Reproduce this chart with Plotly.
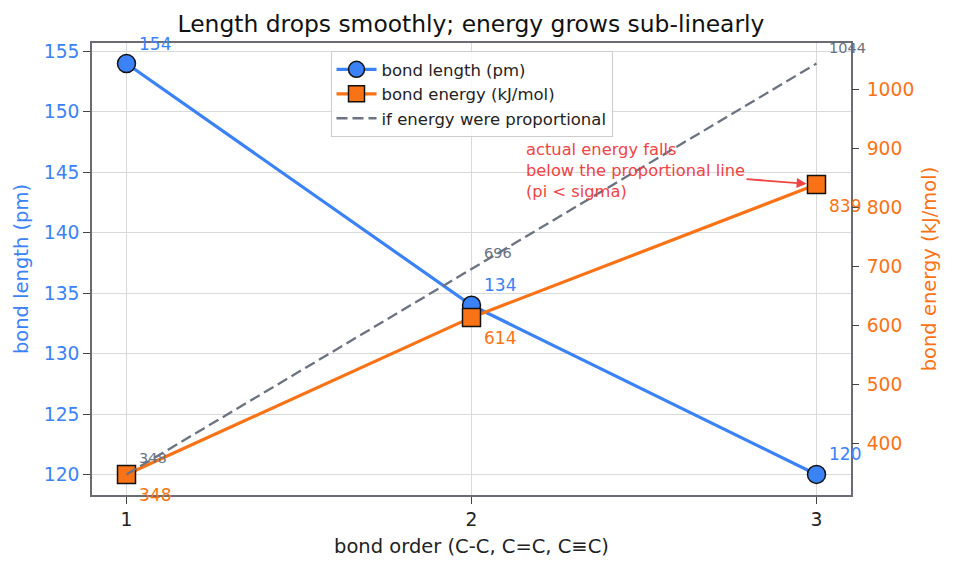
import plotly.graph_objects as go

bond_order = [1, 2, 3]
bond_length = [154, 134, 120]
bond_energy = [348, 614, 839]
proportional = [348, 696, 1044]
x_ticks = [1, 2, 3]
y_ticks = [120, 125, 130, 135, 140, 145, 150, 155]
y2_ticks = [400, 500, 600, 700, 800, 900, 1000]

BLUE = "#3b82f6"
ORANGE = "#f97316"
GRAY = "#6b7280"
RED = "#ef4444"
SPINE = "#6b6b73"
FONT = "DejaVu Sans"

fig = go.Figure()
fig.add_trace(go.Scatter(
    x=bond_order, y=bond_length, name="bond length (pm)", mode="lines+markers",
    line=dict(color=BLUE, width=3.2),
    marker=dict(symbol="circle", size=18, color=BLUE, line=dict(color="#111", width=1.5)),
    yaxis="y"))
fig.add_trace(go.Scatter(
    x=bond_order, y=bond_energy, name="bond energy (kJ/mol)", mode="lines+markers",
    line=dict(color=ORANGE, width=3.2),
    marker=dict(symbol="square", size=18, color=ORANGE, line=dict(color="#111", width=1.5)),
    yaxis="y2"))
fig.add_trace(go.Scatter(
    x=bond_order, y=proportional, name="if energy were proportional", mode="lines",
    line=dict(color=GRAY, width=2.3, dash="11px,5px"),
    yaxis="y2"))

annotations = []
for xv, yv in zip(bond_order, bond_length):
    annotations.append(dict(x=xv, y=yv, xref="x", yref="y", text=str(yv), showarrow=False,
                            xanchor="left", yanchor="middle", xshift=10, yshift=20,
                            font=dict(family=FONT, size=17, color=BLUE)))
for xv, yv in zip(bond_order, bond_energy):
    annotations.append(dict(x=xv, y=yv, xref="x", yref="y2", text=str(yv), showarrow=False,
                            xanchor="left", yanchor="middle", xshift=10, yshift=-21,
                            font=dict(family=FONT, size=17, color=ORANGE)))
for xv, yv in zip(bond_order, proportional):
    annotations.append(dict(x=xv, y=yv, xref="x", yref="y2", text=str(yv), showarrow=False,
                            xanchor="left", yanchor="middle", xshift=10, yshift=16,
                            font=dict(family=FONT, size=14.5, color=GRAY)))
annotations.append(dict(
    x=bond_order[2], y=bond_energy[2], xref="x", yref="y2",
    text="actual energy falls<br>below the proportional line<br>(pi &lt; sigma)",
    align="left", showarrow=True, ax=-181, ay=-14, axref="pixel", ayref="pixel",
    arrowcolor=RED, arrowwidth=1.8, arrowhead=2, arrowsize=1.1, standoff=10,
    font=dict(family=FONT, size=16.3, color=RED)))

fig.update_layout(
    width=954, height=569,
    margin=dict(l=92, r=103, t=43, b=74, autoexpand=False),
    paper_bgcolor="white", plot_bgcolor="white",
    font=dict(family=FONT, color="#222"),
    title=dict(text="Length drops smoothly; energy grows sub-linearly",
               x=0.4937, xanchor="center", y=1 - 24 / 569, yanchor="middle",
               font=dict(family=FONT, size=23.4, color="#111")),
    xaxis=dict(range=[0.9, 3.1], tickvals=x_ticks, ticktext=[str(t) for t in x_ticks],
               showgrid=True, gridcolor="#d9d9d9", gridwidth=1, zeroline=False,
               showline=True, mirror=True, linecolor=SPINE, linewidth=1.6,
               ticks="outside", ticklen=7, tickcolor="#444", tickwidth=1.4,
               tickfont=dict(family=FONT, size=18.7, color="#222"),
               title=dict(text="bond order (C-C, C=C, C≡C)", standoff=10,
                          font=dict(family=FONT, size=19.5, color="#222")),
               automargin=False),
    yaxis=dict(range=[118.3, 155.7], tickvals=y_ticks,
               showgrid=True, gridcolor="#d9d9d9", gridwidth=1, zeroline=False,
               showline=True, mirror=True, linecolor=SPINE, linewidth=1.6,
               ticks="outside", ticklen=7, tickcolor="#444", tickwidth=1.4,
               tickfont=dict(family=FONT, size=18.7, color=BLUE),
               title=dict(text="bond length (pm)", standoff=10,
                          font=dict(family=FONT, size=19.5, color=BLUE)),
               automargin=False),
    yaxis2=dict(range=[313.2, 1078.8], tickvals=y2_ticks, overlaying="y", side="right",
                showgrid=False, zeroline=False, showline=False,
                ticks="outside", ticklen=7, tickcolor="#444", tickwidth=1.4,
                ticklabelstandoff=4,
                tickfont=dict(family=FONT, size=18.7, color=ORANGE),
                title=dict(text="bond energy (kJ/mol)", standoff=9,
                           font=dict(family=FONT, size=19.5, color=ORANGE)),
                automargin=False),
    legend=dict(x=0.5, xanchor="center", y=0.982, yanchor="top", itemwidth=40,
                bgcolor="rgba(255,255,255,0.85)", bordercolor="#cccccc", borderwidth=1,
                font=dict(family=FONT, size=16.5, color="#222")),
    showlegend=True,
    annotations=annotations,
)

fig.write_html("out.html")
